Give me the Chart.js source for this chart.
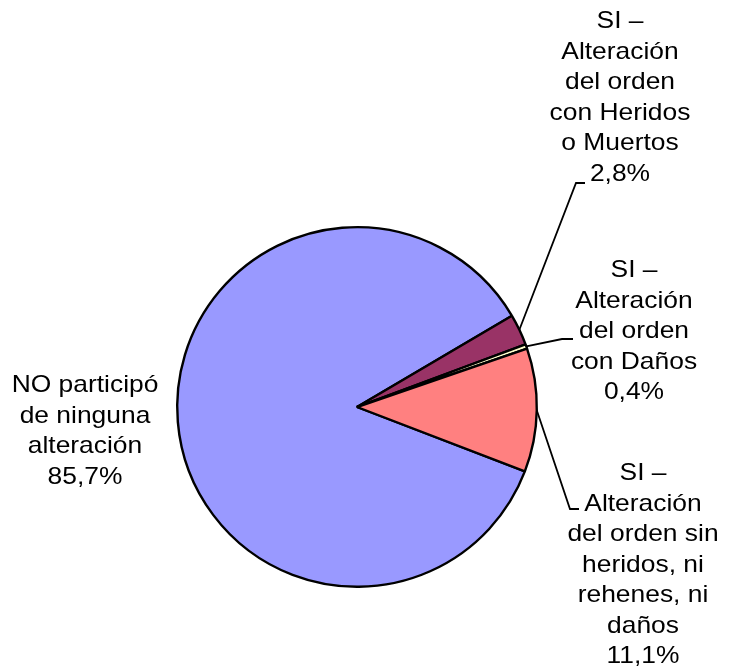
<!DOCTYPE html>
<html>
<head>
<meta charset="utf-8">
<script src="https://cdn.jsdelivr.net/npm/chart.js@4"></script>
<style>
  html, body { margin: 0; padding: 0; background: #fff; }
  #wrap { width: 731px; height: 671px; }
</style>
</head>
<body>
<div id="wrap"><canvas id="pieChart" width="731" height="671"></canvas></div>
<script>
// Categories and values (percent)
const categories = [
    ['NO participó', 'de ninguna', 'alteración'],
    ['SI –', 'Alteración', 'del orden', 'con Heridos', 'o Muertos'],
    ['SI –', 'Alteración', 'del orden', 'con Daños'],
    ['SI –', 'Alteración', 'del orden sin', 'heridos, ni', 'rehenes, ni', 'daños']
];
const values = [85.7, 2.8, 0.4, 11.1];
const valueLabels = ['85,7%', '2,8%', '0,4%', '11,1%'];
const sliceColors = ['#9999FF', '#993366', '#FFFFCC', '#FF8080'];

// label placement: text centre x, first baseline y, optional leader elbow + end
const labelLayout = [
    { x: 85, y: 392, leader: null },
    { x: 620, y: 28, leader: [[576, 183], [585, 183]] },
    { x: 634, y: 277, leader: [[562, 339], [573, 339]] },
    { x: 643, y: 480, leader: [[570, 509], [579, 509]] }
];
const lineHeight = 30.5;
const textStretch = 1.1;   // the source text is a bit wider than plain Arial

const outsideLabels = {
    id: 'outsideLabels',
    afterDraw(chart) {
        const ctx = chart.ctx;
        const arcs = chart.getDatasetMeta(0).data;
        ctx.save();
        ctx.strokeStyle = '#000';
        ctx.lineWidth = 1.8;
        arcs.forEach((arc, i) => {
            const lay = labelLayout[i];
            if (!lay.leader) return;
            const mid = (arc.startAngle + arc.endAngle) / 2;
            const sx = arc.x + Math.cos(mid) * arc.outerRadius;
            const sy = arc.y + Math.sin(mid) * arc.outerRadius;
            ctx.beginPath();
            ctx.moveTo(sx, sy);
            ctx.lineTo(lay.leader[0][0], lay.leader[0][1]);
            ctx.lineTo(lay.leader[1][0], lay.leader[1][1]);
            ctx.stroke();
        });
        ctx.fillStyle = '#000';
        ctx.font = '24px "Liberation Sans", Arial, sans-serif';
        ctx.textAlign = 'center';
        ctx.textBaseline = 'alphabetic';
        categories.forEach((lines, i) => {
            const lay = labelLayout[i];
            const all = lines.concat([valueLabels[i]]);
            all.forEach((t, j) => {
                ctx.save();
                ctx.translate(lay.x, lay.y + j * lineHeight);
                ctx.scale(textStretch, 1);
                ctx.fillText(t, 0, 0);
                ctx.restore();
            });
        });
        ctx.restore();
    }
};

new Chart(document.getElementById('pieChart').getContext('2d'), {
    type: 'pie',
    data: {
        labels: categories.map(c => c.join(' ')),
        datasets: [{
            data: values,
            backgroundColor: sliceColors,
            borderColor: '#000',
            borderWidth: 2.4,
            borderAlign: 'center'
        }]
    },
    options: {
        responsive: false,
        animation: false,
        rotation: 111,
        layout: { padding: { left: 176, right: 193, top: 226, bottom: 83 } },
        plugins: {
            legend: { display: false },
            tooltip: { enabled: false }
        }
    },
    plugins: [outsideLabels]
});
</script>
</body>
</html>
